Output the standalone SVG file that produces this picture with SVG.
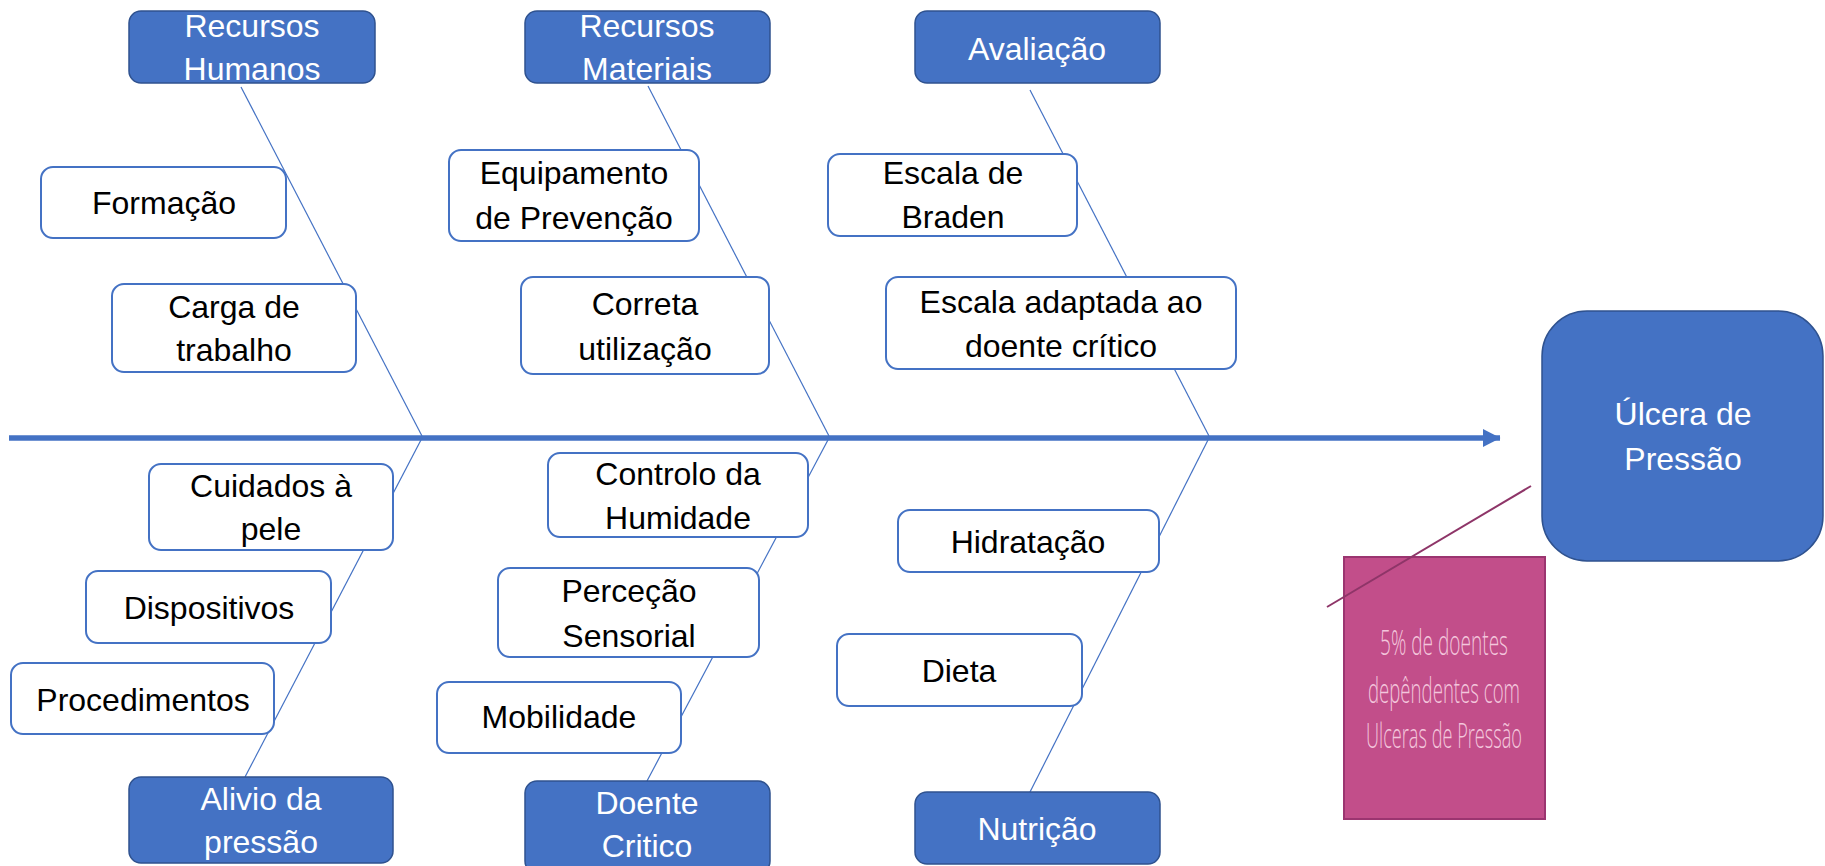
<svg xmlns="http://www.w3.org/2000/svg" width="1825" height="866" viewBox="0 0 1825 866">
<style>
.bg{fill:#ffffff}
.cat rect{fill:#4472C4;stroke:#2F528F;stroke-width:1.5}
.cat text{fill:#ffffff}
.item rect{fill:#ffffff;stroke:#4472C4;stroke-width:2}
.item text{fill:#000000}
text{font-family:"Liberation Sans",Arial,sans-serif;font-size:32px;text-anchor:middle}
.bone{stroke:#4472C4;stroke-width:1.2;fill:none}
.spine{stroke:#4472C4;stroke-width:5.5;fill:none}
.note rect{fill:#C24E8A;stroke:#9B3570;stroke-width:2}
.note text{fill:#F3C6DC;font-family:"Open Sans","Liberation Sans",sans-serif;font-weight:300;font-size:34px}
</style>
<defs>
<marker id="arrow" markerUnits="userSpaceOnUse" markerWidth="20" markerHeight="20" refX="17" refY="9" orient="auto">
<path d="M0,0 L17.5,9 L0,18 Z" fill="#4472C4"/>
</marker>
</defs>
<rect class="bg" x="0" y="0" width="1825" height="866"/>
<g id="connectors">
<line class="spine" x1="9" y1="438" x2="1500" y2="438" marker-end="url(#arrow)"/>
<line class="bone" x1="241" y1="87" x2="422" y2="436"/>
<line class="bone" x1="648" y1="86" x2="829" y2="436"/>
<line class="bone" x1="1030" y1="90" x2="1209" y2="436"/>
<line class="bone" x1="422" y1="438" x2="245" y2="777"/>
<line class="bone" x1="829" y1="438" x2="647" y2="781"/>
<line class="bone" x1="1209" y1="438" x2="1030" y2="792"/>
</g>
<g id="recursos-humanos" class="cat"><rect x="129" y="11" width="246" height="72" rx="12"/><text x="252" y="37">Recursos</text><text x="252" y="80">Humanos</text></g>
<g id="recursos-materiais" class="cat"><rect x="525" y="11" width="245" height="72" rx="12"/><text x="647" y="37">Recursos</text><text x="647" y="80">Materiais</text></g>
<g id="avaliacao" class="cat"><rect x="915" y="11" width="245" height="72" rx="12"/><text x="1037" y="60">Avaliação</text></g>
<g id="alivio" class="cat"><rect x="129" y="777" width="264" height="86" rx="12"/><text x="261" y="810">Alivio da</text><text x="261" y="853">pressão</text></g>
<g id="doente-critico" class="cat"><rect x="525" y="781" width="245" height="92" rx="12"/><text x="647" y="814">Doente</text><text x="647" y="857">Critico</text></g>
<g id="nutricao" class="cat"><rect x="915" y="792" width="245" height="72" rx="12"/><text x="1037" y="840">Nutrição</text></g>
<g id="formacao" class="item"><rect x="41" y="167" width="245" height="71" rx="12"/><text x="164" y="214">Formação</text></g>
<g id="carga" class="item"><rect x="112" y="284" width="244" height="88" rx="12"/><text x="234" y="318">Carga de</text><text x="234" y="361">trabalho</text></g>
<g id="equipamento" class="item"><rect x="449" y="150" width="250" height="91" rx="12"/><text x="574" y="184">Equipamento</text><text x="574" y="229">de Prevenção</text></g>
<g id="correta" class="item"><rect x="521" y="277" width="248" height="97" rx="12"/><text x="645" y="315">Correta</text><text x="645" y="360">utilização</text></g>
<g id="braden" class="item"><rect x="828" y="154" width="249" height="82" rx="12"/><text x="953" y="184">Escala de</text><text x="953" y="228">Braden</text></g>
<g id="escala-adaptada" class="item"><rect x="886" y="277" width="350" height="92" rx="12"/><text x="1061" y="313">Escala adaptada ao</text><text x="1061" y="357">doente crítico</text></g>
<g id="cuidados" class="item"><rect x="149" y="464" width="244" height="86" rx="12"/><text x="271" y="497">Cuidados à</text><text x="271" y="540">pele</text></g>
<g id="dispositivos" class="item"><rect x="86" y="571" width="245" height="72" rx="12"/><text x="209" y="619">Dispositivos</text></g>
<g id="procedimentos" class="item"><rect x="11" y="663" width="263" height="71" rx="12"/><text x="143" y="711">Procedimentos</text></g>
<g id="controlo" class="item"><rect x="548" y="453" width="260" height="84" rx="12"/><text x="678" y="485">Controlo da</text><text x="678" y="529">Humidade</text></g>
<g id="percecao" class="item"><rect x="498" y="568" width="261" height="89" rx="12"/><text x="629" y="602">Perceção</text><text x="629" y="647">Sensorial</text></g>
<g id="mobilidade" class="item"><rect x="437" y="682" width="244" height="71" rx="12"/><text x="559" y="728">Mobilidade</text></g>
<g id="hidratacao" class="item"><rect x="898" y="510" width="261" height="62" rx="12"/><text x="1028" y="553">Hidratação</text></g>
<g id="dieta" class="item"><rect x="837" y="634" width="245" height="72" rx="12"/><text x="959" y="682">Dieta</text></g>
<g id="ulcera" class="cat"><rect x="1542" y="311" width="281" height="250" rx="45"/><text x="1683" y="425">Úlcera de</text><text x="1683" y="470">Pressão</text></g>
<g id="nota" class="note"><rect x="1344" y="557" width="201" height="262"/>
<text x="1444" y="655" textLength="128" lengthAdjust="spacingAndGlyphs">5% de doentes</text>
<text x="1444" y="703" textLength="152" lengthAdjust="spacingAndGlyphs">depêndentes com</text>
<text x="1444" y="748" textLength="156" lengthAdjust="spacingAndGlyphs">Ulceras de Pressão</text>
</g>
<g id="note-connector">
<line x1="1327" y1="607" x2="1531" y2="486" stroke="#8E3568" stroke-width="2"/>
</g>
</svg>
